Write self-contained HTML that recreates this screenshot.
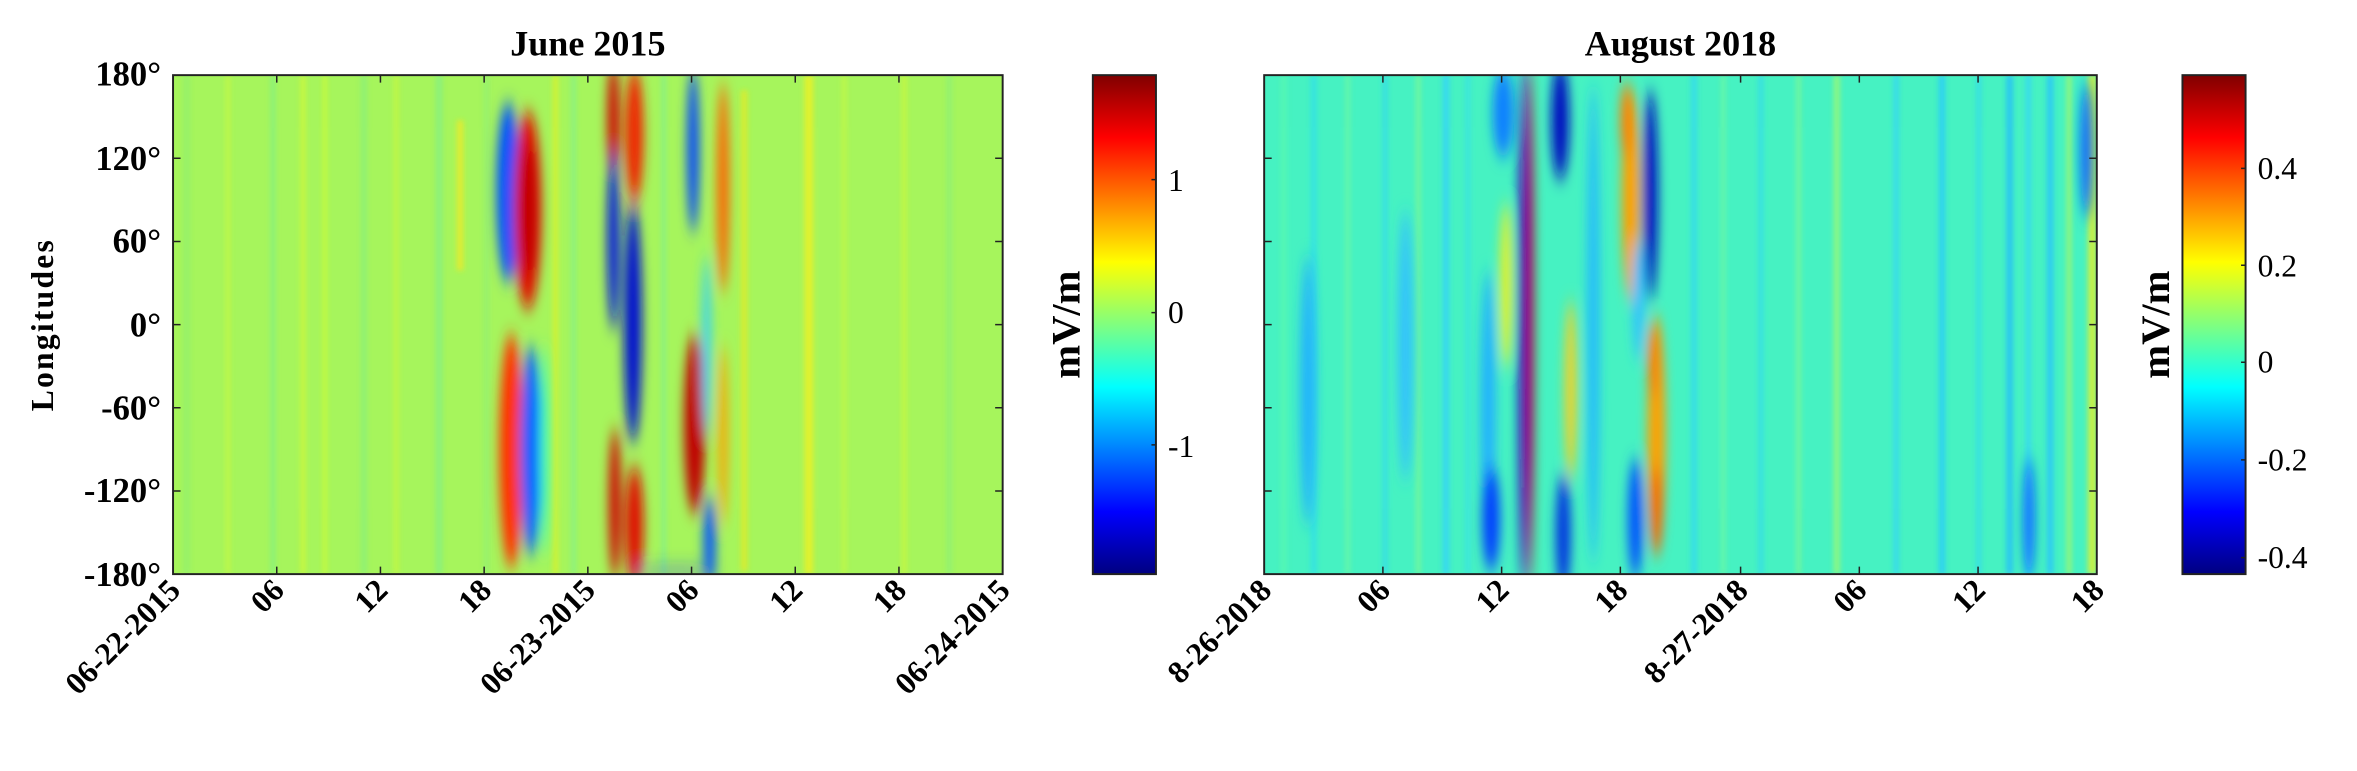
<!DOCTYPE html>
<html><head><meta charset="utf-8"><style>html,body{margin:0;padding:0;background:#fff}svg{display:block}</style></head><body>
<svg width="2357" height="771" viewBox="0 0 1568 513" xmlns="http://www.w3.org/2000/svg" font-family="Liberation Serif, serif" font-weight="bold">
<defs>
<linearGradient id="jet" x1="0" y1="1" x2="0" y2="0">
<stop offset="0" stop-color="#000080"/><stop offset="0.125" stop-color="#0000ff"/><stop offset="0.375" stop-color="#00ffff"/><stop offset="0.625" stop-color="#ffff00"/><stop offset="0.875" stop-color="#ff0000"/><stop offset="1" stop-color="#800000"/>
</linearGradient>
<clipPath id="c1"><rect x="115" y="50" width="552" height="332"/></clipPath>
<clipPath id="c2"><rect x="841" y="50" width="554" height="332"/></clipPath>
<filter id="b" x="-50%" y="-50%" width="200%" height="200%"><feGaussianBlur stdDeviation="3.5 6"/></filter>
<filter id="b2" x="-50%" y="-50%" width="200%" height="200%"><feGaussianBlur stdDeviation="1.8"/></filter>
</defs>

<g clip-path="url(#c1)">
<rect x="115" y="50" width="552" height="332" fill="#a6f55c"/>
<g filter="url(#b2)" opacity="0.8">
<rect x="122" y="50" width="4" height="332" fill="#90f070"/>
<rect x="150" y="50" width="3" height="332" fill="#c8f840"/>
<rect x="180" y="50" width="3" height="332" fill="#7ff088"/>
<rect x="200" y="50" width="3" height="332" fill="#d8f830"/>
<rect x="215" y="50" width="2" height="332" fill="#e0ff20"/>
<rect x="240" y="50" width="4" height="332" fill="#88f07c"/>
<rect x="262" y="50" width="3" height="332" fill="#ccf83a"/>
<rect x="290" y="50" width="4" height="332" fill="#80ef88"/>
<rect x="304" y="80" width="4" height="100" fill="#f5e820"/>
<rect x="322" y="50" width="3" height="332" fill="#8ff078"/>
<rect x="368" y="50" width="3" height="332" fill="#e8f020"/>
<rect x="380" y="50" width="3" height="332" fill="#80f090"/>
<rect x="440" y="50" width="3" height="332" fill="#80f090"/>
<rect x="493" y="60" width="4" height="320" fill="#e8e820"/>
<rect x="535" y="50" width="6" height="332" fill="#f0f020"/>
<rect x="560" y="50" width="3" height="332" fill="#c8f840"/>
<rect x="600" y="50" width="3" height="332" fill="#d0f838"/>
<rect x="630" y="50" width="3" height="332" fill="#88f07e"/>
</g>
<g filter="url(#b)">
<ellipse cx="338" cy="128" rx="8" ry="60" fill="#0050ff"/>
<ellipse cx="351" cy="140" rx="9" ry="66" fill="#e01000"/>
<ellipse cx="351" cy="140" rx="5" ry="45" fill="#c00000"/>
<ellipse cx="340" cy="300" rx="8" ry="78" fill="#ff3000"/>
<ellipse cx="353" cy="300" rx="7" ry="70" fill="#0060ff"/>
<ellipse cx="362" cy="300" rx="3" ry="70" fill="#40ffc0"/>
<ellipse cx="408" cy="80" rx="4" ry="40" fill="#d00000"/>
<ellipse cx="408" cy="160" rx="4" ry="60" fill="#0010e0"/>
<ellipse cx="409" cy="335" rx="4" ry="50" fill="#d00000"/>
<ellipse cx="422" cy="90" rx="6" ry="45" fill="#f02000"/>
<ellipse cx="421" cy="215" rx="6" ry="80" fill="#0010d0"/>
<ellipse cx="422" cy="350" rx="6" ry="40" fill="#e01000"/>
<ellipse cx="461" cy="100" rx="4" ry="55" fill="#0040ff"/>
<ellipse cx="462" cy="282" rx="7" ry="60" fill="#c00000"/>
<ellipse cx="472" cy="360" rx="4" ry="30" fill="#0050ff"/>
<ellipse cx="470" cy="230" rx="3" ry="60" fill="#30d0ff"/>
<ellipse cx="481" cy="125" rx="4" ry="70" fill="#ff6000"/>
<ellipse cx="481" cy="290" rx="3" ry="60" fill="#ffa000"/>
<ellipse cx="450" cy="380" rx="30" ry="1.5" fill="#2040ff"/>
</g>
</g>
<rect x="115" y="50" width="552" height="332" fill="none" stroke="#222" stroke-width="1.3"/>
<g stroke="#222" stroke-width="1">
<path d="M184 50v5M253 50v5M322 50v5M391 50v5M460 50v5M529 50v5M598 50v5M184 382v-5M253 382v-5M322 382v-5M391 382v-5M460 382v-5M529 382v-5M598 382v-5"/>
<path d="M115 105.3h5M115 160.7h5M115 216h5M115 271.3h5M115 326.7h5M667 105.3h-5M667 160.7h-5M667 216h-5M667 271.3h-5M667 326.7h-5"/>
</g>
<text x="391" y="37" font-size="24" text-anchor="middle">June 2015</text>
<g font-size="23" text-anchor="end">
<text x="107" y="57">180°</text><text x="107" y="113">120°</text><text x="107" y="168">60°</text><text x="107" y="224">0°</text><text x="107" y="279">-60°</text><text x="107" y="334">-120°</text><text x="107" y="390">-180°</text>
</g>
<text transform="translate(35,216) rotate(-90)" font-size="21" text-anchor="middle" letter-spacing="1.5">Longitudes</text>
<g font-size="21" text-anchor="end">
<text transform="translate(121,394) rotate(-45)">06-22-2015</text>
<text transform="translate(190,394) rotate(-45)">06</text>
<text transform="translate(259,394) rotate(-45)">12</text>
<text transform="translate(328,394) rotate(-45)">18</text>
<text transform="translate(397,394) rotate(-45)">06-23-2015</text>
<text transform="translate(466,394) rotate(-45)">06</text>
<text transform="translate(535,394) rotate(-45)">12</text>
<text transform="translate(604,394) rotate(-45)">18</text>
<text transform="translate(673,394) rotate(-45)">06-24-2015</text>
</g>
<rect x="727" y="50" width="42" height="332" fill="url(#jet)" stroke="#222" stroke-width="1.3"/>
<path d="M769 119.5h-3M769 208h-3M769 296h-3" stroke="#222"/>
<g font-size="21" font-weight="normal"><text x="777" y="127">1</text><text x="777" y="215">0</text><text x="777" y="304">-1</text></g>
<text transform="translate(718,216) rotate(-90)" font-size="27" text-anchor="middle">mV/m</text>

<g clip-path="url(#c2)">
<rect x="841" y="50" width="554" height="332" fill="#46f2c2"/>
<g filter="url(#b2)" opacity="0.85">
<rect x="852" y="50" width="4" height="332" fill="#58f8b0"/>
<rect x="872" y="50" width="4" height="332" fill="#30e0e8"/>
<rect x="895" y="50" width="3" height="332" fill="#70f8a0"/>
<rect x="920" y="50" width="3" height="332" fill="#30d8f0"/>
<rect x="942" y="50" width="3" height="332" fill="#80f890"/>
<rect x="960" y="50" width="4" height="332" fill="#30d0ff"/>
<rect x="975" y="50" width="3" height="332" fill="#38e0e8"/>
<rect x="1125" y="50" width="4" height="332" fill="#30d8f0"/>
<rect x="1145" y="50" width="3" height="332" fill="#70f8a0"/>
<rect x="1170" y="50" width="3" height="332" fill="#30d8f0"/>
<rect x="1195" y="50" width="3" height="332" fill="#80f890"/>
<rect x="1220" y="50" width="4" height="332" fill="#a0f870"/>
<rect x="1260" y="50" width="3" height="332" fill="#30d0ff"/>
<rect x="1290" y="50" width="4" height="332" fill="#28c8ff"/>
<rect x="1315" y="50" width="3" height="332" fill="#30d8f0"/>
<rect x="1335" y="50" width="4" height="332" fill="#20b8ff"/>
<rect x="1348" y="50" width="3" height="332" fill="#30d0ff"/>
<rect x="1362" y="50" width="4" height="332" fill="#28c0ff"/>
<rect x="1375" y="50" width="3" height="332" fill="#b0f860"/>
<rect x="1389" y="50" width="6" height="332" fill="#e0f030"/>
</g>
<g filter="url(#b)">
<ellipse cx="870" cy="260" rx="5" ry="90" fill="#20b0ff"/>
<ellipse cx="935" cy="230" rx="5" ry="90" fill="#30c0ff"/>
<ellipse cx="990" cy="270" rx="5" ry="90" fill="#20b0ff"/>
<ellipse cx="1000" cy="75" rx="7" ry="30" fill="#1080ff"/>
<ellipse cx="1002" cy="190" rx="4" ry="55" fill="#f0f020"/>
<ellipse cx="992" cy="345" rx="6" ry="35" fill="#0040ff"/>
<ellipse cx="1013" cy="216" rx="3" ry="175" fill="#0010c0"/>
<ellipse cx="1018" cy="216" rx="2.5" ry="175" fill="#c00000"/>
<ellipse cx="1038" cy="80" rx="6" ry="40" fill="#0010c0"/>
<ellipse cx="1040" cy="355" rx="5" ry="40" fill="#0030e0"/>
<ellipse cx="1045" cy="260" rx="4" ry="60" fill="#f8d020"/>
<ellipse cx="1060" cy="216" rx="4" ry="160" fill="#20b8ff"/>
<ellipse cx="1085" cy="130" rx="6" ry="70" fill="#ffa000"/>
<ellipse cx="1082" cy="80" rx="4" ry="25" fill="#ff8000"/>
<ellipse cx="1098" cy="130" rx="5" ry="70" fill="#0010c0"/>
<ellipse cx="1088" cy="345" rx="5" ry="40" fill="#0050ff"/>
<ellipse cx="1102" cy="290" rx="6" ry="80" fill="#ffa000"/>
<ellipse cx="1102" cy="340" rx="4" ry="30" fill="#ff6000"/>
<ellipse cx="1100" cy="240" rx="4" ry="25" fill="#ff8000"/>
<ellipse cx="1090" cy="200" rx="4" ry="40" fill="#30c0ff"/>
<ellipse cx="1388" cy="100" rx="4" ry="45" fill="#1060ff"/>
<ellipse cx="1350" cy="345" rx="4" ry="40" fill="#1070ff"/>
</g>
</g>
<rect x="841" y="50" width="554" height="332" fill="none" stroke="#222" stroke-width="1.3"/>
<g stroke="#222" stroke-width="1">
<path d="M920 50v5M999 50v5M1078 50v5M1158 50v5M1237 50v5M1316 50v5M920 382v-5M999 382v-5M1078 382v-5M1158 382v-5M1237 382v-5M1316 382v-5"/>
<path d="M841 105.3h5M841 160.7h5M841 216h5M841 271.3h5M841 326.7h5M1395 105.3h-5M1395 160.7h-5M1395 216h-5M1395 271.3h-5M1395 326.7h-5"/>
</g>
<text x="1118" y="37" font-size="24" text-anchor="middle">August 2018</text>
<g font-size="21" text-anchor="end">
<text transform="translate(847,394) rotate(-45)">8-26-2018</text>
<text transform="translate(926,394) rotate(-45)">06</text>
<text transform="translate(1005,394) rotate(-45)">12</text>
<text transform="translate(1084,394) rotate(-45)">18</text>
<text transform="translate(1164,394) rotate(-45)">8-27-2018</text>
<text transform="translate(1243,394) rotate(-45)">06</text>
<text transform="translate(1322,394) rotate(-45)">12</text>
<text transform="translate(1401,394) rotate(-45)">18</text>
</g>
<rect x="1452" y="50" width="42" height="332" fill="url(#jet)" stroke="#222" stroke-width="1.3"/>
<path d="M1494 112h-3M1494 176.5h-3M1494 241h-3M1494 306h-3M1494 371h-3" stroke="#222"/>
<g font-size="21" font-weight="normal"><text x="1502" y="119">0.4</text><text x="1502" y="184">0.2</text><text x="1502" y="248">0</text><text x="1502" y="313">-0.2</text><text x="1502" y="378">-0.4</text></g>
<text transform="translate(1443,216) rotate(-90)" font-size="27" text-anchor="middle">mV/m</text>
</svg>
</body></html>
